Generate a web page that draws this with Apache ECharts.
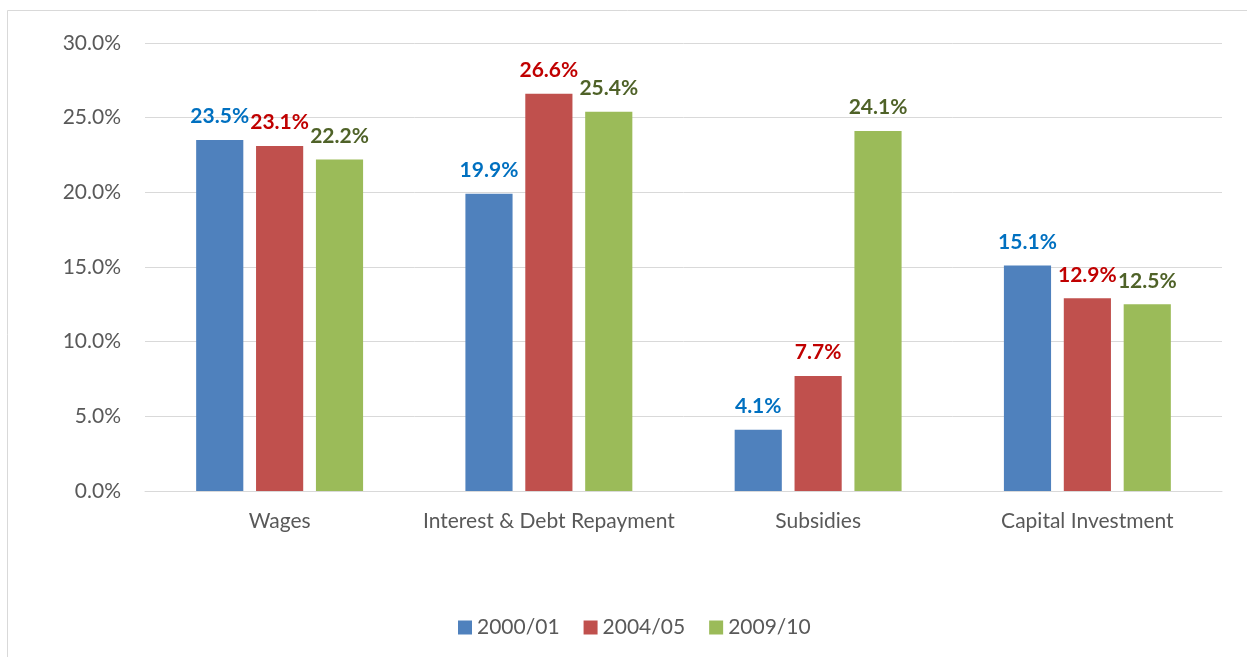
<!DOCTYPE html>
<html>
<head>
<meta charset="utf-8">
<script src="https://cdn.jsdelivr.net/npm/echarts@6/dist/echarts.min.js"></script>
<style>
  html, body { margin: 0; padding: 0; background: #ffffff; }
  #chart { width: 1247px; height: 657px; }
</style>
</head>
<body>
<div id="chart"></div>
<script>
// Spending categories and shares (%) for each fiscal year
const categories = ['Wages', 'Interest & Debt Repayment', 'Subsidies', 'Capital Investment'];
const years = ['2000/01', '2004/05', '2009/10'];
const values2000 = [23.5, 19.9, 4.1, 15.1];
const values2004 = [23.1, 26.6, 7.7, 12.9];
const values2009 = [22.2, 25.4, 24.1, 12.5];
const yTicks = [0, 5, 10, 15, 20, 25, 30];

const barColors = ['#4F81BD', '#C0504D', '#9BBB59'];
const labelColors = ['#0070C0', '#C00000', '#4F6228'];
const seriesValues = [values2000, values2004, values2009];
const FONT = 'Lato, "Open Sans", sans-serif';

const chart = echarts.init(document.getElementById('chart'), null, { renderer: 'canvas' });

chart.setOption({
  backgroundColor: '#ffffff',
  animation: false,
  textStyle: { fontFamily: FONT },
  graphic: [{
    type: 'rect',
    shape: { x: 7.5, y: 10.5, width: 1260, height: 670 },
    style: { fill: 'none', stroke: '#D9D9D9', lineWidth: 1 },
    silent: true
  }],
  grid: { left: 145, right: 25, top: 43, bottom: 166, containLabel: false },
  legend: {
    bottom: 19,
    left: 458,
    padding: 0,
    itemWidth: 14,
    itemHeight: 14,
    itemGap: 24,
    icon: 'rect',
    textStyle: { fontSize: 21, color: '#595959', fontFamily: FONT },
    data: years
  },
  xAxis: {
    type: 'category',
    data: categories,
    axisLine: { show: true, lineStyle: { color: '#D9D9D9', width: 1 } },
    axisTick: { show: false },
    axisLabel: { interval: 0, fontSize: 21, color: '#595959', margin: 20, fontFamily: FONT }
  },
  yAxis: {
    type: 'value',
    min: yTicks[0],
    max: yTicks[yTicks.length - 1],
    interval: 5,
    axisLine: { show: false },
    axisTick: { show: false },
    splitLine: { lineStyle: { color: '#D9D9D9', width: 1 } },
    axisLabel: {
      fontSize: 21, color: '#595959', margin: 24, fontFamily: FONT,
      formatter: v => v.toFixed(1) + '%'
    }
  },
  series: years.map((name, i) => ({
    name: name,
    type: 'bar',
    data: seriesValues[i],
    barGap: '27%',
    barCategoryGap: '38%',
    itemStyle: { color: barColors[i] },
    label: {
      show: true,
      position: 'top',
      distance: 13,
      fontSize: 21,
      fontWeight: 'bold',
      color: labelColors[i],
      fontFamily: FONT,
      formatter: p => p.value.toFixed(1) + '%'
    }
  }))
});
</script>
</body>
</html>
